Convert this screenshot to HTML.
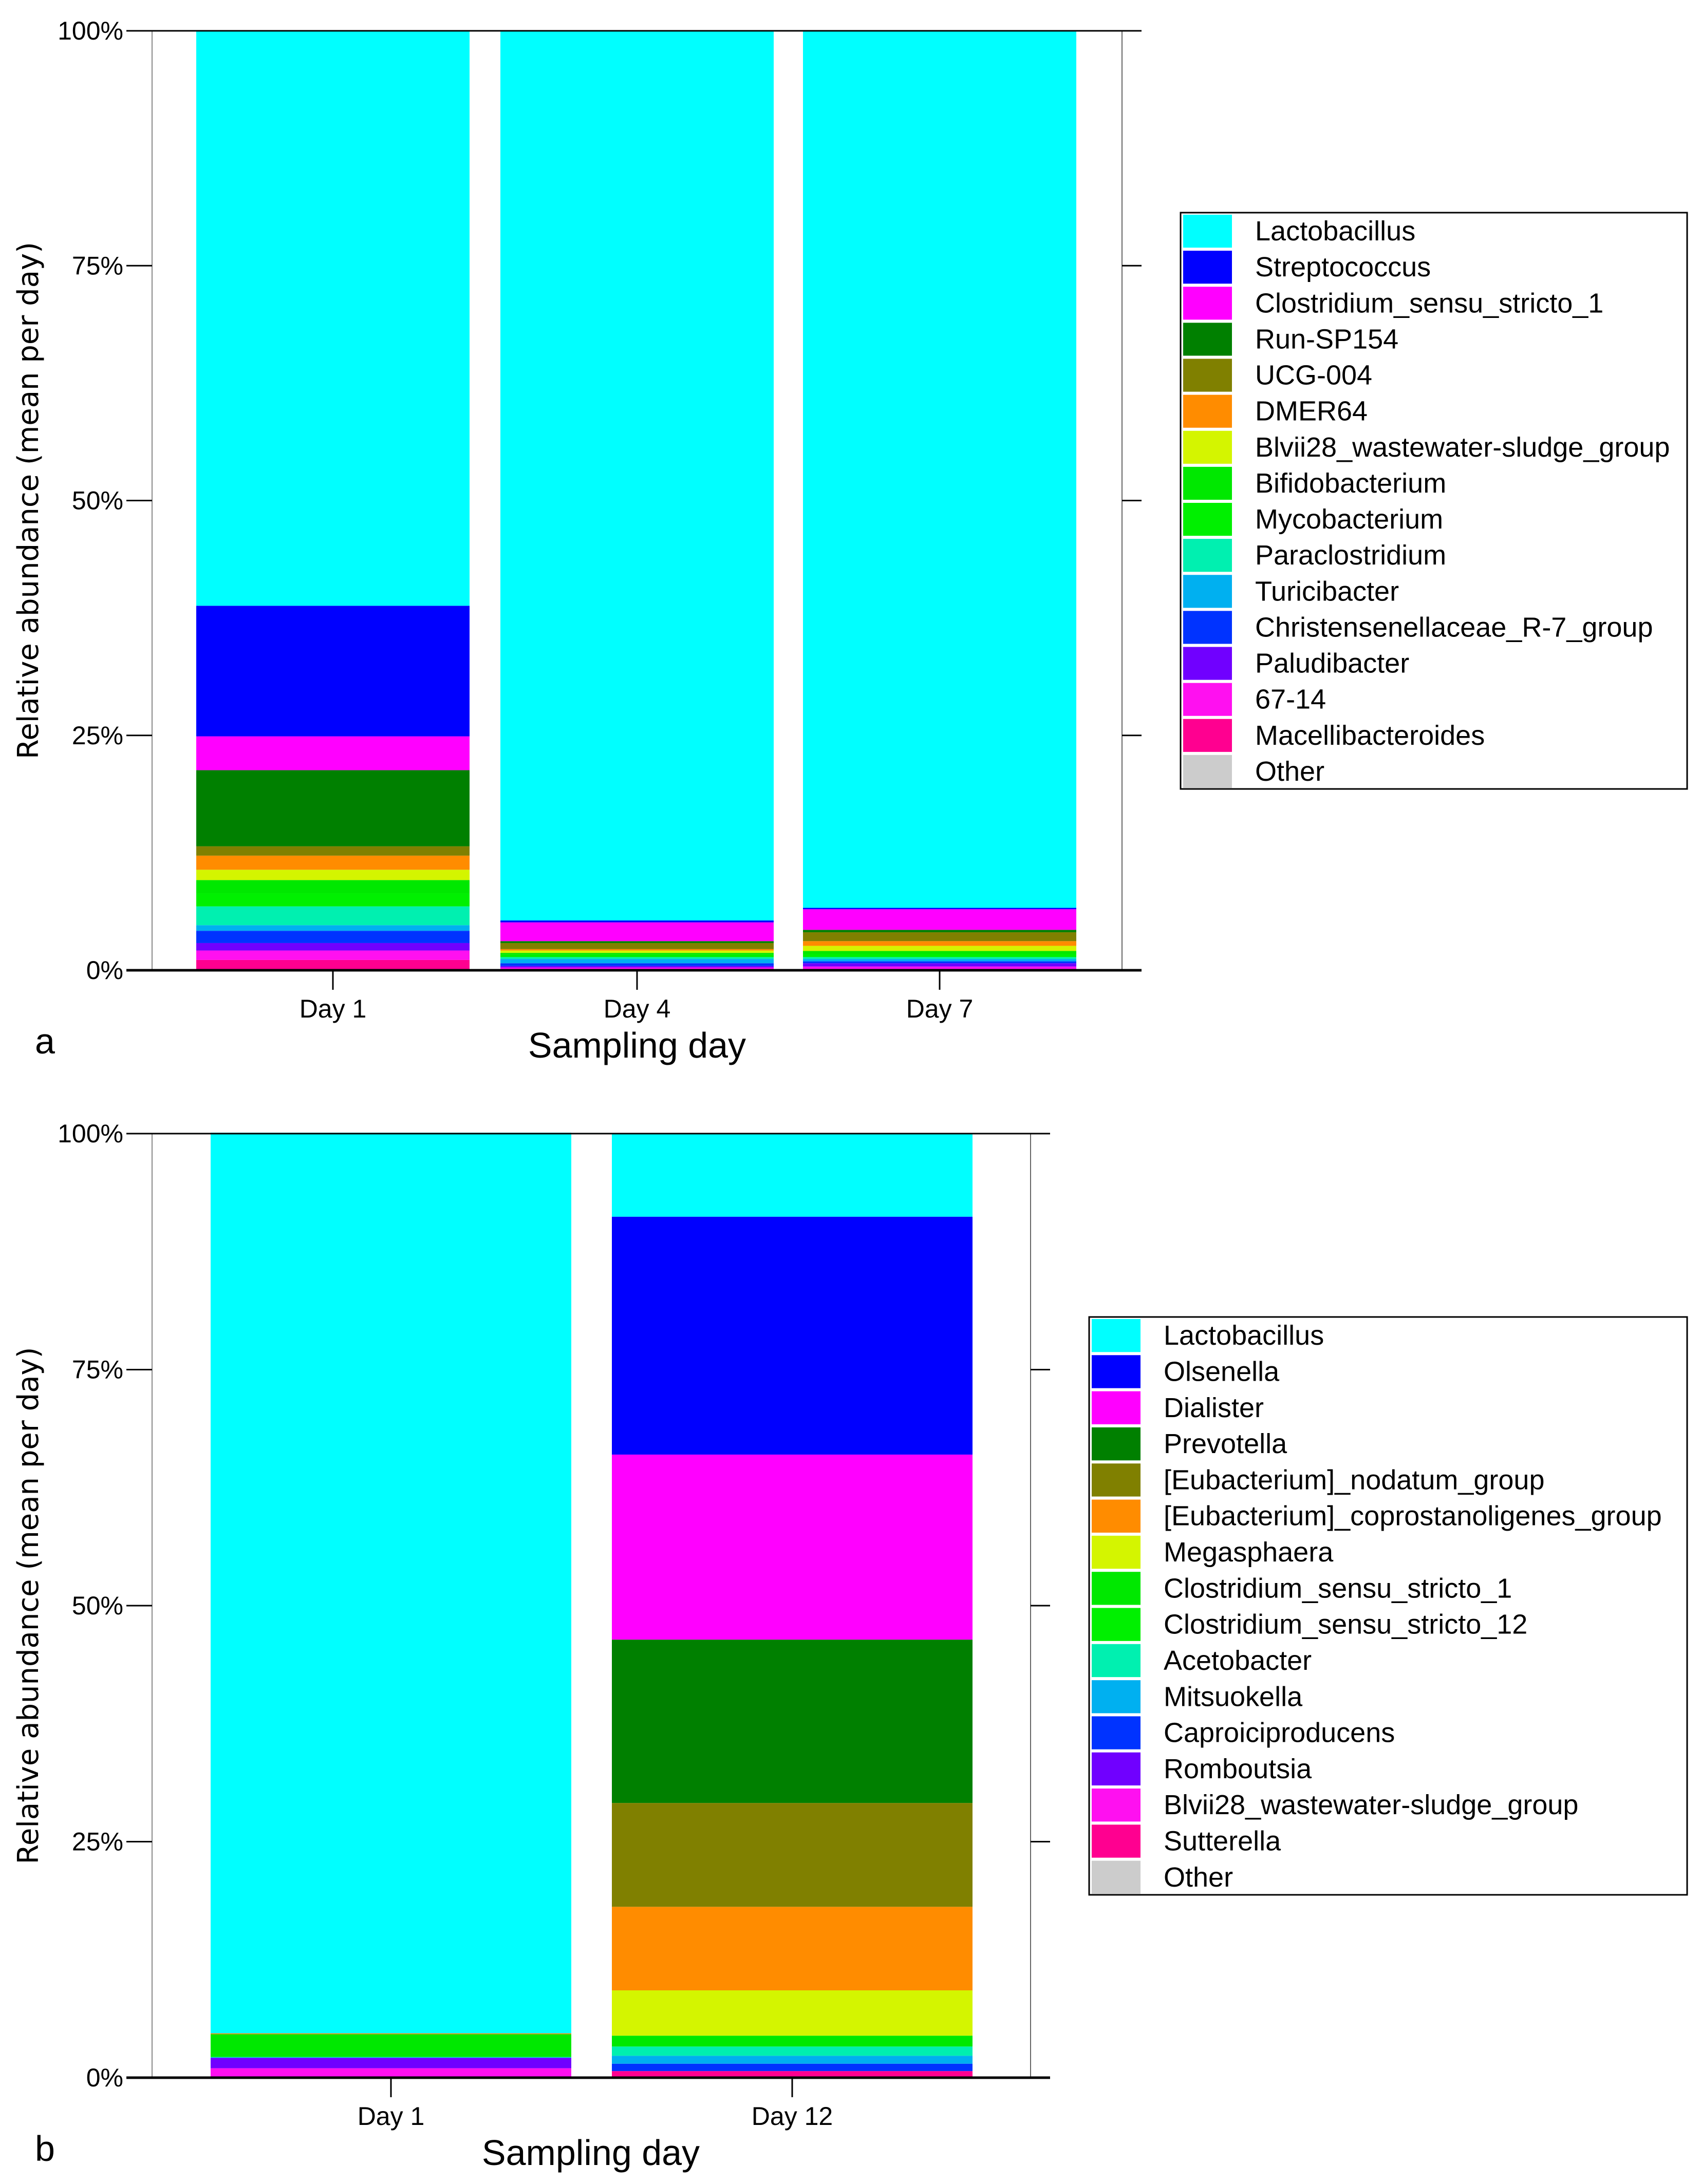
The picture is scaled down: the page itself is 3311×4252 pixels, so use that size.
<!DOCTYPE html>
<html><head><meta charset="utf-8">
<style>
html,body{margin:0;padding:0;background:#fff;}
svg{display:block;}
.tick{font-family:"Liberation Sans Narrow","Liberation Sans",sans-serif;font-size:50px;fill:#000;}
.leg{font-family:"Liberation Sans Narrow","Liberation Sans",sans-serif;font-size:54px;fill:#000;}
.xt{font-family:"Liberation Sans Narrow","Liberation Sans",sans-serif;font-size:70px;fill:#000;}
.yt{font-family:"DejaVu Sans",sans-serif;font-size:56px;fill:#000;}
</style></head>
<body>
<svg id="chart" width="3311" height="4252" viewBox="0 0 3311 4252" xmlns="http://www.w3.org/2000/svg">
<g id="pa"></g>
<g id="pb"></g>
</svg>
<script>
// Panel a data
const catsA = ["Day 1", "Day 4", "Day 7"];
const taxaA = ["Lactobacillus","Streptococcus","Clostridium_sensu_stricto_1","Run-SP154","UCG-004","DMER64","Blvii28_wastewater-sludge_group","Bifidobacterium","Mycobacterium","Paraclostridium","Turicibacter","Christensenellaceae_R-7_group","Paludibacter","67-14","Macellibacteroides","Other"];
const day1A = [61.2,13.9,3.6,8.1,1.0,1.5,1.1,1.4,1.4,2.0,0.6,1.3,0.8,1.0,1.0,0.1];
const day4A = [94.7,0.2,2.0,0.2,0.65,0.15,0.25,0.2,0.25,0.2,0.45,0.3,0.15,0.25,0.05,0.0];
const day7A = [93.3,0.15,2.2,0.25,0.95,0.5,0.55,0.3,0.35,0.2,0.25,0.2,0.35,0.35,0.05,0.0];
// Panel b data
const catsB = ["Day 1", "Day 12"];
const taxaB = ["Lactobacillus","Olsenella","Dialister","Prevotella","[Eubacterium]_nodatum_group","[Eubacterium]_coprostanoligenes_group","Megasphaera","Clostridium_sensu_stricto_1","Clostridium_sensu_stricto_12","Acetobacter","Mitsuokella","Caproiciproducens","Romboutsia","Blvii28_wastewater-sludge_group","Sutterella","Other"];
const day1B = [95.4,0.0,0.0,0.0,0.0,0.1,0.0,2.4,0.0,0.05,0.05,0.0,1.1,1.0,0.0,0.0];
const day12B = [8.8,25.2,19.6,17.3,11.0,8.85,4.8,1.15,0.0,0.98,0.84,0.78,0.0,0.0,0.67,0.03];
const tickVals = [0,25,50,75,100];
const tickLabels = ["0%","25%","50%","75%","100%"];

const colors = ["#00FFFF","#0000FF","#FF00FF","#008000","#808000","#FF8C00","#D4F500","#00E800","#00F000","#00F0B0","#00B0F0","#0033FF","#7000FF","#FF10F0","#FF0090","#CCCCCC"];
const NS="http://www.w3.org/2000/svg";
function mk(parent, tag, attrs, text){
  const e=document.createElementNS(NS,tag);
  for(const k in attrs) e.setAttribute(k,attrs[k]);
  if(text!==undefined) e.textContent=text;
  parent.appendChild(e); return e;
}
function drawPanel(g, cfg, cats, series, taxa){
  const y = v => cfg.y0 - (v/100)*(cfg.y0-cfg.y100);
  cats.forEach((c,i)=>{
    let acc=0;
    const vals=series[i];
    const x=cfg.barX[i];
    for(let k=vals.length-1;k>=0;k--){
      const v=vals[k]; if(v<=0) continue;
      const r=mk(g,'rect',{x:x,y:y(acc+v),width:cfg.barW,height:y(acc)-y(acc+v),fill:colors[k]});
      
      
      acc+=v;
    }
    if(acc<100){
      const r=mk(g,'rect',{x:x,y:y(100),width:cfg.barW,height:y(acc)-y(100),fill:colors[0]});
      
      
    }
    const cx=x+cfg.barW/2;
    mk(g,'line',{x1:cx,y1:cfg.y0,x2:cx,y2:cfg.y0+38,stroke:'#000','stroke-width':3});
    const t=mk(g,'text',{x:cx,y:cfg.y0+92,'text-anchor':'middle',class:'tick'},c);
    
    
  });
  mk(g,'line',{x1:cfg.xL,y1:cfg.y100,x2:cfg.xL,y2:cfg.y0,stroke:'#888','stroke-width':2});
  mk(g,'line',{x1:cfg.xR,y1:cfg.y100,x2:cfg.xR,y2:cfg.y0,stroke:'#666','stroke-width':2});
  mk(g,'line',{x1:cfg.xL-50,y1:cfg.y100,x2:cfg.xR+38,y2:cfg.y100,stroke:'#000','stroke-width':3});
  mk(g,'line',{x1:cfg.xL-50,y1:cfg.y0,x2:cfg.xR+38,y2:cfg.y0,stroke:'#000','stroke-width':5});
  tickVals.forEach((v,i)=>{
    const yy=y(v);
    mk(g,'line',{x1:cfg.xL-50,y1:yy,x2:cfg.xL,y2:yy,stroke:'#000','stroke-width':3});
    mk(g,'line',{x1:cfg.xR,y1:yy,x2:cfg.xR+38,y2:yy,stroke:'#000','stroke-width':3});
    const t=mk(g,'text',{x:cfg.xL-56,y:yy+17,'text-anchor':'end',class:'tick'},tickLabels[i]);
    
    
  });
  const yt=mk(g,'text',{x:0,y:0,'text-anchor':'middle',class:'yt',transform:`translate(74,${(cfg.y0+cfg.y100)/2}) rotate(-90)`},'Relative abundance (mean per day)');
  
  
  const xt=mk(g,'text',{x:cfg.xTitleX,y:cfg.y0+170,'text-anchor':'middle',class:'xt'},'Sampling day');
  
  
  const pl=mk(g,'text',{x:68,y:cfg.y0+162,class:'xt'},cfg.label);
  
  
  const lg=mk(g,'g',{});
  
  
  mk(lg,'rect',{x:cfg.legX,y:cfg.legY,width:cfg.legW,height:cfg.legH,fill:'#fff',stroke:'#000','stroke-width':3});
  const rowH=cfg.legH/taxa.length;
  taxa.forEach((n,k)=>{
    const ry=cfg.legY+k*rowH;
    const sw=mk(lg,'rect',{x:cfg.legX+5,y:ry+4,width:95,height:rowH-6,fill:colors[k]});
    
    
    const t=mk(lg,'text',{x:cfg.legX+145,y:ry+rowH*0.5+19,class:'leg'},n);
    
    
  });
}
drawPanel(document.getElementById('pa'),
  {y0:1889,y100:60,xL:296,xR:2184,barX:[382,974,1563],barW:532,xTitleX:1240,label:'a',
   legX:2298,legY:414,legW:986,legH:1122},
  catsA,[day1A,day4A,day7A],taxaA);
drawPanel(document.getElementById('pb'),
  {y0:4045,y100:2207,xL:296,xR:2006,barX:[410,1191],barW:702,xTitleX:1150,label:'b',
   legX:2120,legY:2564,legW:1164,legH:1125},
  catsB,[day1B,day12B],taxaB);
</script>
</body></html>
